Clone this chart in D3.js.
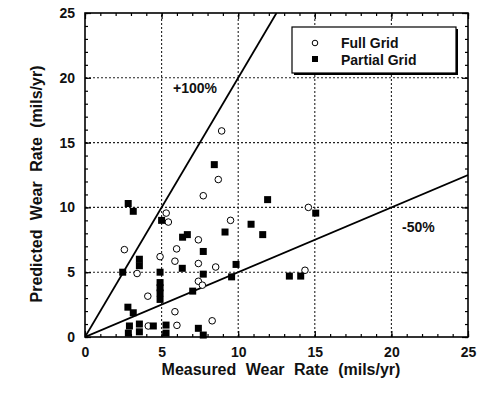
<!DOCTYPE html>
<html>
<head>
<meta charset="utf-8">
<script src="https://cdn.jsdelivr.net/npm/d3@7"></script>
<style>
  body { margin: 0; background: #fff; }
  text { font-family: "Liberation Sans", Arial, sans-serif; fill: #111; }
</style>
</head>
<body>
<svg width="481" height="396"></svg>
<script>
// Full grid points (measured, predicted)
const fullX = [2.57, 4.9, 3.4, 4.1, 4.13, 6.0, 5.3, 5.44, 5.98, 5.87, 5.87, 8.92, 8.7, 7.72, 9.5, 7.4, 7.4, 8.53, 7.4, 7.66, 8.3, 14.58, 14.36];
const fullY = [6.74, 6.2, 4.9, 3.15, 0.85, 0.9, 9.56, 8.87, 6.8, 5.85, 1.95, 15.9, 12.15, 10.9, 9.0, 7.5, 5.67, 5.4, 4.3, 4.0, 1.25, 10.0, 5.15];

// Partial grid points
const partX = [2.82, 3.15, 5.0, 3.55, 3.55, 2.46, 4.9, 4.9, 4.9, 4.9, 4.9, 2.8, 3.15, 2.9, 2.83, 3.55, 3.55, 4.46, 5.29, 5.29,
               8.44, 11.92, 10.84, 11.6, 9.14, 6.37, 6.68, 7.72, 9.86, 6.35, 7.72, 9.57, 7.03, 7.4, 7.72, 13.34, 14.08, 15.06];
const partY = [10.3, 9.7, 9.0, 6.0, 5.5, 5.0, 5.0, 4.2, 3.8, 3.4, 2.9, 2.3, 1.87, 0.85, 0.3, 1.0, 0.4, 0.85, 0.92, 0.3,
               13.3, 10.6, 8.7, 7.9, 8.1, 7.7, 7.9, 6.6, 5.6, 5.3, 4.85, 4.64, 3.54, 0.67, 0.15, 4.7, 4.7, 9.56];

const majorTicks = [0, 5, 10, 15, 20, 25];
const gridTicks = [5, 10, 15, 20];
const minorTicks = d3.range(0, 26, 1);

const legendLabels = ["Full Grid", "Partial Grid"];
// reference lines: slope and label
const refSlopes = [2, 0.5];
const refLabels = ["+100%", "-50%"];
const refLabelPos = [[5.75, 18.8], [20.7, 8.1]];

const svg = d3.select("svg");
const pLeft = 85, pRight = 468, pTop = 13, pBottom = 337;

const x = d3.scaleLinear().domain([0, 25]).range([pLeft, pRight]);
const y = d3.scaleLinear().domain([0, 25]).range([pBottom, pTop]);

// dotted grid
const g = svg.append("g");
g.selectAll(".vg").data(gridTicks).enter().append("line")
  .attr("x1", d => x(d)).attr("x2", d => x(d))
  .attr("y1", y(0)).attr("y2", y(25))
  .attr("stroke", "#222").attr("stroke-width", 1.1).attr("stroke-dasharray", "2,2");
g.selectAll(".hg").data(gridTicks).enter().append("line")
  .attr("y1", d => y(d)).attr("y2", d => y(d))
  .attr("x1", x(0)).attr("x2", x(25))
  .attr("stroke", "#222").attr("stroke-width", 1.1).attr("stroke-dasharray", "2,2");

// reference lines clipped to the box
svg.append("clipPath").attr("id", "clip").append("rect")
  .attr("x", pLeft).attr("y", pTop).attr("width", pRight - pLeft).attr("height", pBottom - pTop);

refSlopes.forEach((s, i) => {
  const xe = Math.min(25, 25 / s);
  svg.append("line")
    .attr("clip-path", "url(#clip)")
    .attr("x1", x(0)).attr("y1", y(0))
    .attr("x2", x(xe)).attr("y2", y(xe * s))
    .attr("stroke", "#000").attr("stroke-width", 1.8);
  svg.append("text")
    .attr("x", x(refLabelPos[i][0])).attr("y", y(refLabelPos[i][1]))
    .attr("font-size", 14).attr("font-weight", "bold")
    .text(refLabels[i]);
});

// axes with inward ticks
svg.append("g").attr("transform", `translate(0,${pBottom})`)
  .call(d3.axisBottom(x).tickValues(majorTicks).tickSize(-6).tickPadding(10).tickFormat(d3.format("d")))
  .call(a => a.select(".domain").remove());
svg.append("g").attr("transform", `translate(0,${pBottom})`)
  .call(d3.axisBottom(x).tickValues(minorTicks).tickSize(-3).tickFormat(""))
  .call(a => a.select(".domain").remove());
svg.append("g").attr("transform", `translate(0,${pTop})`)
  .call(d3.axisTop(x).tickValues(majorTicks).tickSize(-6).tickFormat(""))
  .call(a => a.select(".domain").remove());
svg.append("g").attr("transform", `translate(0,${pTop})`)
  .call(d3.axisTop(x).tickValues(minorTicks).tickSize(-3).tickFormat(""))
  .call(a => a.select(".domain").remove());
svg.append("g").attr("transform", `translate(${pLeft},0)`)
  .call(d3.axisLeft(y).tickValues(majorTicks).tickSize(-6).tickPadding(10).tickFormat(d3.format("d")))
  .call(a => a.select(".domain").remove());
svg.append("g").attr("transform", `translate(${pLeft},0)`)
  .call(d3.axisLeft(y).tickValues(minorTicks).tickSize(-3).tickFormat(""))
  .call(a => a.select(".domain").remove());
svg.append("g").attr("transform", `translate(${pRight},0)`)
  .call(d3.axisRight(y).tickValues(majorTicks).tickSize(-6).tickFormat(""))
  .call(a => a.select(".domain").remove());
svg.append("g").attr("transform", `translate(${pRight},0)`)
  .call(d3.axisRight(y).tickValues(minorTicks).tickSize(-3).tickFormat(""))
  .call(a => a.select(".domain").remove());

svg.selectAll(".tick line").attr("stroke", "#000").attr("stroke-width", 1.2);
svg.selectAll(".tick text").attr("font-size", 14).attr("font-weight", "bold")
  .attr("font-family", "Liberation Sans, Arial, sans-serif").attr("fill", "#111");

// frame
svg.append("rect").attr("x", pLeft).attr("y", pTop)
  .attr("width", pRight - pLeft).attr("height", pBottom - pTop)
  .attr("fill", "none").attr("stroke", "#000").attr("stroke-width", 1.6);

// points
svg.selectAll(".full").data(fullX).enter().append("circle")
  .attr("cx", d => x(d)).attr("cy", (d, i) => y(fullY[i]))
  .attr("r", 3.3).attr("fill", "#fff").attr("stroke", "#000").attr("stroke-width", 1);

svg.selectAll(".part").data(partX).enter().append("rect")
  .attr("x", d => x(d) - 3.5).attr("y", (d, i) => y(partY[i]) - 3.5)
  .attr("width", 7).attr("height", 7).attr("fill", "#000");

// legend
const lx = 292, ly = 27, lw = 164, lh = 46;
svg.append("rect").attr("x", lx + 2).attr("y", ly + 2).attr("width", lw).attr("height", lh).attr("fill", "#000");
svg.append("rect").attr("x", lx).attr("y", ly).attr("width", lw).attr("height", lh)
  .attr("fill", "#fff").attr("stroke", "#000").attr("stroke-width", 1.2);
svg.append("circle").attr("cx", 315).attr("cy", 43).attr("r", 2.8)
  .attr("fill", "#fff").attr("stroke", "#000").attr("stroke-width", 1);
svg.append("rect").attr("x", 312).attr("y", 56).attr("width", 6).attr("height", 6).attr("fill", "#000");
legendLabels.forEach((t, i) => {
  svg.append("text").attr("x", 341).attr("y", 48 + i * 16.5)
    .attr("font-size", 14).attr("font-weight", "bold").text(t);
});

// axis titles
svg.append("text").attr("x", 281).attr("y", 375)
  .attr("text-anchor", "middle").attr("font-size", 16).attr("font-weight", "bold")
  .attr("word-spacing", 5).text("Measured Wear Rate (mils/yr)");
svg.append("text").attr("transform", `translate(42,184) rotate(-90)`)
  .attr("text-anchor", "middle").attr("font-size", 16).attr("font-weight", "bold")
  .attr("word-spacing", 5).text("Predicted Wear Rate (mils/yr)");
</script>
</body>
</html>
